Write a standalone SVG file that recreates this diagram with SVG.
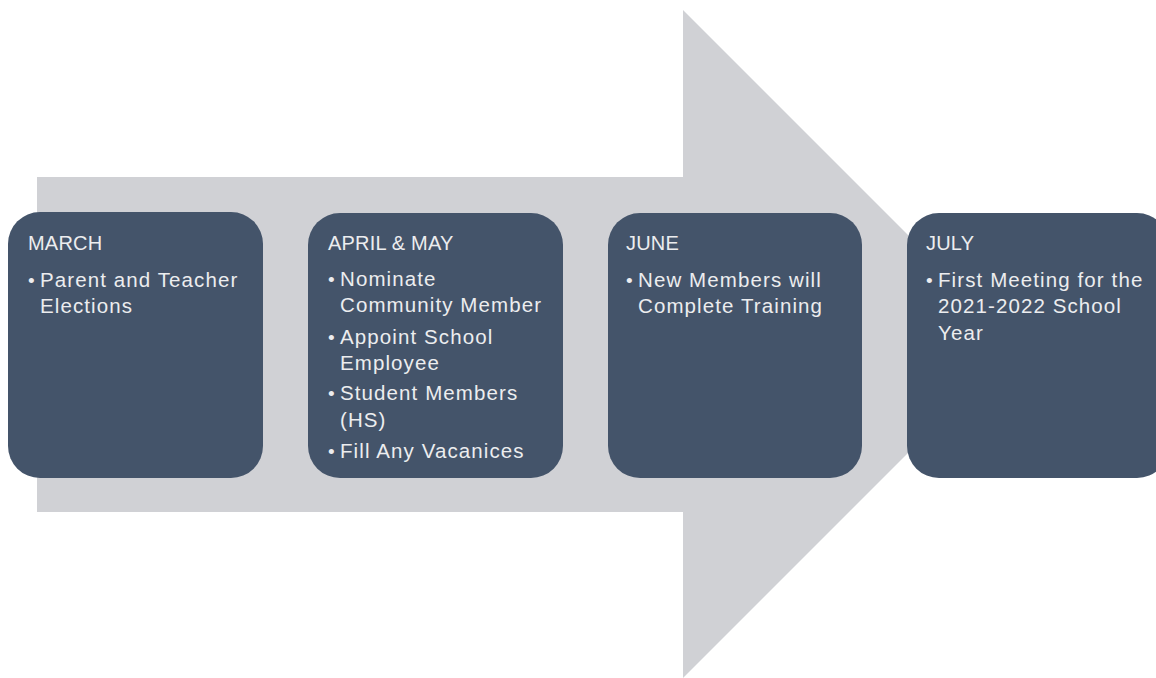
<svg xmlns="http://www.w3.org/2000/svg" width="1156" height="678" viewBox="0 0 1156 678">
<style>
.box{fill:#44546A}
.t{font-family:"Liberation Sans",Arial,sans-serif;fill:#ECEDEF}
.h{font-size:20px;letter-spacing:0.2px}
.b{font-size:20.5px;letter-spacing:1.1px}
.d{font-size:19px}
</style>
<rect width="1156" height="678" fill="#FFFFFF"/>
<g id="arrow">
<polygon points="37,177 683,177 683,10 1017,344 683,678 683,512 37,512" fill="#D0D1D5"/>
</g>
<g id="connectors"></g>
<g id="march">
<rect class="box" x="8" y="212" width="255" height="266" rx="32"/>
<text class="t h" x="28" y="250">MARCH</text>
<text class="t d" x="28" y="287">•</text>
<text class="t b" x="40" y="287">Parent and Teacher</text>
<text class="t b" x="40" y="313">Elections</text>
</g>
<g id="april-may">
<rect class="box" x="308" y="213" width="255" height="265" rx="32"/>
<text class="t h" x="328" y="250">APRIL &amp; MAY</text>
<text class="t d" x="328" y="286">•</text>
<text class="t b" x="340" y="286">Nominate</text>
<text class="t b" x="340" y="312">Community Member</text>
<text class="t d" x="328" y="344">•</text>
<text class="t b" x="340" y="344">Appoint School</text>
<text class="t b" x="340" y="370">Employee</text>
<text class="t d" x="328" y="400">•</text>
<text class="t b" x="340" y="400">Student Members</text>
<text class="t b" x="340" y="427">(HS)</text>
<text class="t d" x="328" y="458">•</text>
<text class="t b" x="340" y="458">Fill Any Vacanices</text>
</g>
<g id="june">
<rect class="box" x="608" y="213" width="254" height="265" rx="32"/>
<text class="t h" x="626" y="250">JUNE</text>
<text class="t d" x="626" y="287">•</text>
<text class="t b" x="638" y="287">New Members will</text>
<text class="t b" x="638" y="313">Complete Training</text>
</g>
<g id="july">
<rect class="box" x="907" y="213" width="262" height="265" rx="32"/>
<text class="t h" x="926" y="250">JULY</text>
<text class="t d" x="926" y="287">•</text>
<text class="t b" x="938" y="287">First Meeting for the</text>
<text class="t b" x="938" y="313">2021-2022 School</text>
<text class="t b" x="938" y="340">Year</text>
</g>
</svg>
